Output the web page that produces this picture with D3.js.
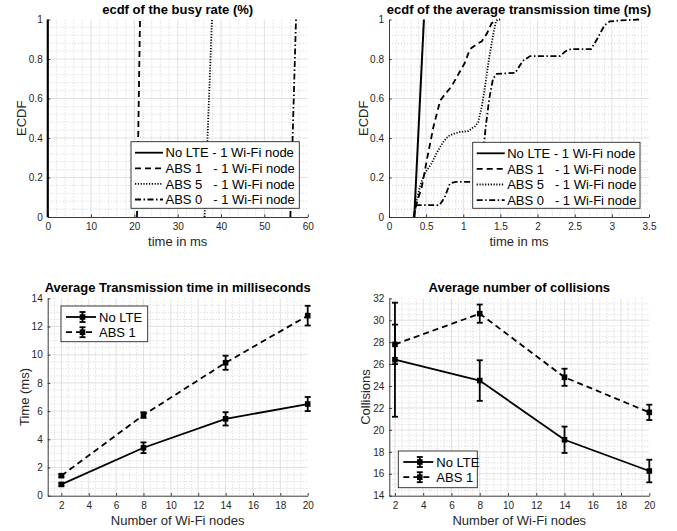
<!DOCTYPE html>
<html><head><meta charset="utf-8">
<script src="https://cdn.jsdelivr.net/npm/d3@7"></script>
<style>
html,body{margin:0;padding:0;background:#fff;}
svg text{font-family:"Liberation Sans",Arial,Helvetica,sans-serif;white-space:pre;}
</style></head>
<body>
<svg id="chart" width="677" height="531"></svg>
<script>
// ---------- DATA ----------
const ecdfLegend = ["No LTE - 1 Wi-Fi node", "ABS 1   - 1 Wi-Fi node", "ABS 5   - 1 Wi-Fi node", "ABS 0   - 1 Wi-Fi node"];

// ecdf of the busy rate (%)
const busyY = [0, 1];
const busyNoLTE = [0, 0];
const busyABS1 = [20.6, 21.3];
const busyABS5 = [36.2, 37.9];
const busyABS0 = [56.0, 57.3];
const busyXTicks = [0, 10, 20, 30, 40, 50, 60];

// ecdf of the average transmission time (ms)
const txNoLTEx = [0.34, 0.47];
const txNoLTEy = [0, 1];
const txABS1x = [0.33, 0.38, 0.44, 0.51, 0.6, 0.69, 0.75, 0.84, 0.93, 1.02, 1.09, 1.18, 1.25, 1.32, 1.38, 1.45];
const txABS1y = [0, 0.08, 0.15, 0.29, 0.46, 0.59, 0.62, 0.66, 0.72, 0.78, 0.85, 0.875, 0.89, 0.93, 0.98, 1.0];
const txABS5x = [0.34, 0.37, 0.42, 0.48, 0.57, 0.65, 0.73, 0.8, 0.86, 0.95, 1.07, 1.12, 1.16, 1.2, 1.25, 1.3, 1.35, 1.4, 1.44, 1.47, 1.5];
const txABS5y = [0, 0.08, 0.16, 0.22, 0.27, 0.33, 0.38, 0.41, 0.42, 0.43, 0.435, 0.45, 0.46, 0.48, 0.56, 0.68, 0.81, 0.92, 0.99, 1.0, 1.0];
const txABS0x = [0.34, 0.35, 0.68, 0.75, 0.82, 0.9, 1.22, 1.26, 1.3, 1.35, 1.4, 1.45, 1.7, 1.8, 1.9, 2.3, 2.38, 2.45, 2.72, 2.8, 2.9, 2.97, 3.1, 3.37];
const txABS0y = [0, 0.06, 0.06, 0.1, 0.17, 0.178, 0.178, 0.3, 0.45, 0.6, 0.7, 0.725, 0.73, 0.79, 0.815, 0.815, 0.84, 0.85, 0.85, 0.9, 0.97, 0.99, 0.995, 1.0];
const txXTicks = [0, 0.5, 1, 1.5, 2, 2.5, 3, 3.5];
const ecdfYTicks = [0, 0.2, 0.4, 0.6, 0.8, 1];

// Wi-Fi node experiments
const nodes = [2, 8, 14, 20];
const nodeTicks = [2, 4, 6, 8, 10, 12, 14, 16, 18, 20];
const errLegend = ["No LTE", "ABS 1"];
const timeNoLTE = [0.8, 3.4, 5.45, 6.5];
const timeNoLTEErr = [0.1, 0.38, 0.47, 0.5];
const timeABS1 = [1.42, 5.72, 9.43, 12.77];
const timeABS1Err = [0.1, 0.2, 0.5, 0.7];
const timeYTicks = [0, 2, 4, 6, 8, 10, 12, 14];
const collNoLTE = [26.4, 24.5, 19.1, 16.25];
const collNoLTEErr = [5.2, 1.85, 1.2, 1.03];
const collABS1 = [27.8, 30.6, 24.8, 21.6];
const collABS1Err = [1.8, 0.83, 0.78, 0.7];
const collYTicks = [14, 16, 18, 20, 22, 24, 26, 28, 30, 32];

// ---------- DRAW ----------
const svg = d3.select("#chart");
const AX = "#262626";
const dashes = ["none", "6,4", "1.2,1.6", "6,2.5,1.5,2.5"];

function minorVals(ticks, n) {
  const out = [];
  for (let i = 0; i < ticks.length - 1; i++) {
    const a = ticks[i], b = ticks[i + 1];
    for (let k = 1; k < n; k++) out.push(a + (b - a) * k / n);
  }
  return out;
}

function makeAxes(cfg) {
  const g = svg.append("g");
  const x = d3.scaleLinear().domain(cfg.xd).range([cfg.l, cfg.r]);
  const y = d3.scaleLinear().domain(cfg.yd).range([cfg.b, cfg.t]);
  // minor grid
  const xm = minorVals(cfg.xt, cfg.xn).concat(cfg.xExtraMinor || []);
  const ym = minorVals(cfg.yt, cfg.yn);
  g.append("g").selectAll("line").data(xm.filter(v => v > cfg.xd[0] && v < cfg.xd[1])).join("line")
    .attr("x1", d => x(d)).attr("x2", d => x(d)).attr("y1", cfg.t).attr("y2", cfg.b)
    .attr("stroke", "#b4b4b4").attr("stroke-width", 0.6).attr("stroke-dasharray", "1,2");
  g.append("g").selectAll("line").data(ym).join("line")
    .attr("y1", d => y(d)).attr("y2", d => y(d)).attr("x1", cfg.l).attr("x2", cfg.r)
    .attr("stroke", "#b4b4b4").attr("stroke-width", 0.6).attr("stroke-dasharray", "1,2");
  // major grid
  g.append("g").selectAll("line").data(cfg.xt.filter(v => v > cfg.xd[0] && v < cfg.xd[1])).join("line")
    .attr("x1", d => x(d)).attr("x2", d => x(d)).attr("y1", cfg.t).attr("y2", cfg.b)
    .attr("stroke", "#d4d4d4").attr("stroke-width", 0.7);
  g.append("g").selectAll("line").data(cfg.yt.filter(v => v > cfg.yd[0] && v < cfg.yd[1])).join("line")
    .attr("y1", d => y(d)).attr("y2", d => y(d)).attr("x1", cfg.l).attr("x2", cfg.r)
    .attr("stroke", "#d4d4d4").attr("stroke-width", 0.7);
  // axes (ticks inward)
  const xa = g.append("g").attr("transform", `translate(0,${cfg.b})`)
    .call(d3.axisBottom(x).tickValues(cfg.xt).tickSizeInner(-2.6).tickSizeOuter(0).tickPadding(6)
      .tickFormat(d => String(d)));
  const ya = g.append("g").attr("transform", `translate(${cfg.l},0)`)
    .call(d3.axisLeft(y).tickValues(cfg.yt).tickSizeInner(-2.6).tickSizeOuter(0).tickPadding(5)
      .tickFormat(d => String(d)));
  [xa, ya].forEach(a => {
    a.select(".domain").attr("stroke", AX).attr("stroke-width", 0.9);
    a.selectAll(".tick line").attr("stroke", AX).attr("stroke-width", 0.9);
    a.selectAll(".tick text").attr("fill", AX).attr("font-size", 10)
      .style("font-family", '"Liberation Sans",Arial,sans-serif');
  });
  xa.selectAll(".tick text").attr("dy", "0.71em");
  // title & labels
  g.append("text").attr("x", (cfg.l + cfg.r) / 2).attr("y", cfg.t - 6).attr("text-anchor", "middle")
    .attr("font-size", 13).attr("font-weight", "bold").attr("fill", "#000").text(cfg.title);
  g.append("text").attr("x", (cfg.l + cfg.r) / 2).attr("y", cfg.b + 29).attr("text-anchor", "middle")
    .attr("font-size", 13).attr("fill", AX).text(cfg.xlabel);
  g.append("text").attr("transform", `translate(${cfg.ylx},${(cfg.t + cfg.b) / 2}) rotate(-90)`)
    .attr("text-anchor", "middle").attr("dy", "0.35em")
    .attr("font-size", 13).attr("fill", AX).text(cfg.ylabel);
  return {g, x, y};
}

function ecdfPanel(cfg, series) {
  const {g, x, y} = makeAxes(cfg);
  const line = d3.line().x(d => x(d[0])).y(d => y(d[1]));
  series.forEach((s, i) => {
    const pts = s.xs.map((v, k) => [v, s.ys[k]]);
    g.append("path").attr("d", line(pts)).attr("fill", "none").attr("stroke", "#000")
      .attr("stroke-width", i === 0 ? 2 : 1.8).attr("stroke-dasharray", dashes[i]);
  });
  // legend
  const L = cfg.leg;
  const lg = g.append("g");
  lg.append("rect").attr("x", L.x).attr("y", L.y).attr("width", L.w).attr("height", L.h)
    .attr("fill", "#fff").attr("stroke", AX).attr("stroke-width", 0.9);
  ecdfLegend.forEach((t, i) => {
    const yy = L.y + 11 + i * 15.6;
    lg.append("line").attr("x1", L.x + 4).attr("x2", L.x + 32).attr("y1", yy).attr("y2", yy)
      .attr("stroke", "#000").attr("stroke-width", 1.8).attr("stroke-dasharray", dashes[i]);
    lg.append("text").attr("x", L.x + 34.5).attr("y", yy).attr("dy", "0.36em")
      .attr("font-size", 13).attr("fill", "#000").text(t);
  });
}

function errPanel(cfg, series) {
  const {g, x, y} = makeAxes(cfg);
  const line = d3.line().x(d => x(d[0])).y(d => y(d[1]));
  series.forEach((s, i) => {
    const pts = nodes.map((n, k) => [n, s.v[k]]);
    g.append("path").attr("d", line(pts)).attr("fill", "none").attr("stroke", "#000")
      .attr("stroke-width", 1.8).attr("stroke-dasharray", i === 0 ? "none" : "6,4");
    const eb = g.append("g").selectAll("g").data(nodes.map((n, k) => ({n, v: s.v[k], e: s.e[k]}))).join("g");
    eb.append("line").attr("x1", d => x(d.n)).attr("x2", d => x(d.n))
      .attr("y1", d => y(d.v - d.e)).attr("y2", d => y(d.v + d.e)).attr("stroke", "#000").attr("stroke-width", 1.8);
    eb.append("line").attr("x1", d => x(d.n) - 3).attr("x2", d => x(d.n) + 3)
      .attr("y1", d => y(d.v - d.e)).attr("y2", d => y(d.v - d.e)).attr("stroke", "#000").attr("stroke-width", 1.8);
    eb.append("line").attr("x1", d => x(d.n) - 3).attr("x2", d => x(d.n) + 3)
      .attr("y1", d => y(d.v + d.e)).attr("y2", d => y(d.v + d.e)).attr("stroke", "#000").attr("stroke-width", 1.8);
    eb.append("rect").attr("x", d => x(d.n) - 2.8).attr("y", d => y(d.v) - 2.8).attr("width", 5.6).attr("height", 5.6)
      .attr("fill", "#000");
  });
  const L = cfg.leg;
  const lg = g.append("g");
  lg.append("rect").attr("x", L.x).attr("y", L.y).attr("width", L.w).attr("height", L.h)
    .attr("fill", "#fff").attr("stroke", AX).attr("stroke-width", 0.9);
  errLegend.forEach((t, i) => {
    const yy = L.y + 11 + i * 15.2;
    const cx = L.x + 21.5;
    lg.append("line").attr("x1", L.x + 5).attr("x2", L.x + 35).attr("y1", yy).attr("y2", yy)
      .attr("stroke", "#000").attr("stroke-width", 1.8).attr("stroke-dasharray", i === 0 ? "none" : "6,4");
    lg.append("line").attr("x1", cx).attr("x2", cx).attr("y1", yy - 5).attr("y2", yy + 5).attr("stroke", "#000").attr("stroke-width", 1.8);
    lg.append("line").attr("x1", cx - 3).attr("x2", cx + 3).attr("y1", yy - 5).attr("y2", yy - 5).attr("stroke", "#000").attr("stroke-width", 1.8);
    lg.append("line").attr("x1", cx - 3).attr("x2", cx + 3).attr("y1", yy + 5).attr("y2", yy + 5).attr("stroke", "#000").attr("stroke-width", 1.8);
    lg.append("rect").attr("x", cx - 2.8).attr("y", yy - 2.8).attr("width", 5.6).attr("height", 5.6).attr("fill", "#000");
    lg.append("text").attr("x", L.x + 38).attr("y", yy).attr("dy", "0.36em")
      .attr("font-size", 13).attr("fill", "#000").text(t);
  });
}

ecdfPanel({l: 47.7, r: 307.7, t: 19.5, b: 217, xd: [0, 60], yd: [0, 1], xt: busyXTicks, yt: ecdfYTicks, xn: 5, yn: 5,
  title: "ecdf of the busy rate (%)", xlabel: "time in ms", ylabel: "ECDF", ylx: 21,
  leg: {x: 131, y: 141.7, w: 168.3, h: 66.6}},
  [{xs: busyNoLTE, ys: busyY}, {xs: busyABS1, ys: busyY}, {xs: busyABS5, ys: busyY}, {xs: busyABS0, ys: busyY}]);

ecdfPanel({l: 389, r: 649, t: 19.5, b: 217, xd: [0, 3.5], yd: [0, 1], xt: txXTicks, yt: ecdfYTicks, xn: 5, yn: 5,
  title: "ecdf of the average transmission time (ms)", xlabel: "time in ms", ylabel: "ECDF", ylx: 363,
  leg: {x: 472.7, y: 142.3, w: 167.3, h: 66}},
  [{xs: txNoLTEx, ys: txNoLTEy}, {xs: txABS1x, ys: txABS1y}, {xs: txABS5x, ys: txABS5y}, {xs: txABS0x, ys: txABS0y}]);

errPanel({l: 47.7, r: 307.7, t: 298.3, b: 495.7, xd: [1, 20], yd: [0, 14], xt: nodeTicks, yt: timeYTicks, xn: 4, yn: 4,
  xExtraMinor: [1.5],
  title: "Average Transmission time in milliseconds", xlabel: "Number of Wi-Fi nodes", ylabel: "Time (ms)", ylx: 24,
  leg: {x: 61, y: 306, w: 86.7, h: 35.7}},
  [{v: timeNoLTE, e: timeNoLTEErr}, {v: timeABS1, e: timeABS1Err}]);

errPanel({l: 389.3, r: 649.3, t: 298.3, b: 495.7, xd: [1.6, 20], yd: [14, 32], xt: nodeTicks, yt: collYTicks, xn: 4, yn: 4,
  title: "Average number of collisions", xlabel: "Number of Wi-Fi nodes", ylabel: "Collisions", ylx: 365,
  leg: {x: 398.3, y: 451, w: 79, h: 36.7}},
  [{v: collNoLTE, e: collNoLTEErr}, {v: collABS1, e: collABS1Err}]);
</script>
</body></html>
